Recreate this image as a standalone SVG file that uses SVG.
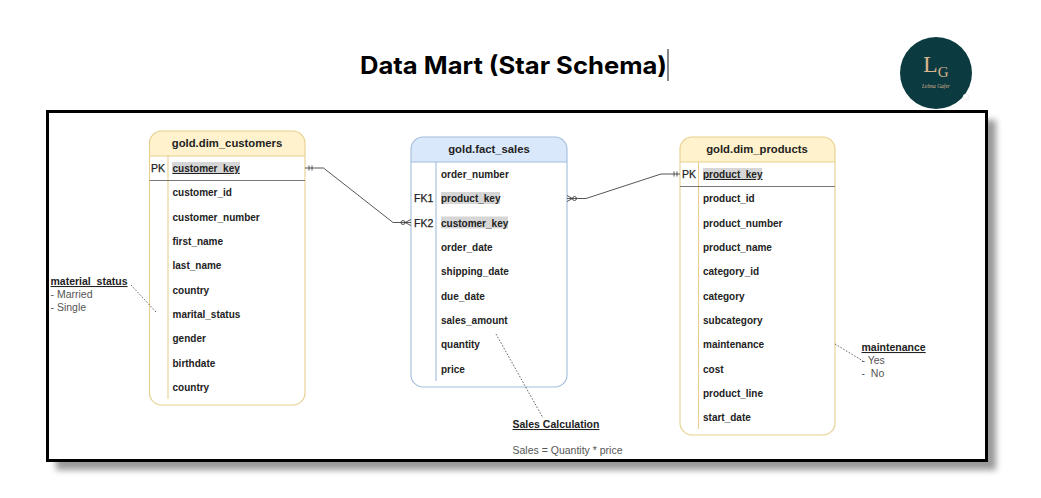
<svg xmlns="http://www.w3.org/2000/svg" width="1041" height="498" viewBox="0 0 1041 498">
<style>
text{font-family:"Liberation Sans",Arial,sans-serif;fill:#111}
.f{font-size:10px;font-weight:700;fill:#222}
.k{font-size:10.5px;fill:#222;stroke:#222;stroke-width:.25}
.h{font-size:11.3px;font-weight:700;text-anchor:middle;fill:#222}
.n{font-size:10.500px;fill:#555}
.u{font-size:10px;font-weight:700;text-decoration:underline;fill:#222}
.y{stroke:#e8cf8e;stroke-width:1.100;fill:none}
.b{stroke:#a3bedd;stroke-width:1.100;fill:none}
.c{stroke:#444;stroke-width:.9;fill:none}
.d{stroke:#555;stroke-width:.9;fill:none;stroke-dasharray:1.600 1.600}
.hl{fill:#d6d6d6}
.s{font-family:"Liberation Serif",serif;fill:#d8b48c}
</style>
<defs><filter id="sh" x="-5%" y="-10%" width="110%" height="120%"><feGaussianBlur stdDeviation="3"/></filter></defs>
<rect width="1041" height="498" fill="#fff"/>
<text x="360" y="74" font-size="24" font-weight="700" style="font-family:Inter,sans-serif;fill:#000" textLength="307" lengthAdjust="spacingAndGlyphs">Data Mart (Star Schema)</text>
<path d="M668 49V81" stroke="#111" stroke-width="1"/>
<g id="logo">
<circle cx="936" cy="73" r="36" fill="#0c3a41"/>
<text x="923" y="72" font-size="24" class="s">L<tspan dy="5" font-size="15">G</tspan></text>
<text x="936" y="88" font-size="5.500" font-style="italic" text-anchor="middle" class="s">Lelma Gafer</text>
<circle cx="966" cy="97" r="3" fill="#fff" stroke="#ddd" stroke-width=".5"/>
</g>
<path d="M56 120H996V470H56Z" fill="#777" opacity=".75" filter="url(#sh)"/>
<rect x="47.500" y="111.500" width="939" height="349" fill="#fff" stroke="#000" stroke-width="3"/>
<g id="dim_customers">
<path d="M149.500 156V143a12 12 0 0 1 12-12H293a12 12 0 0 1 12 12V156Z" fill="#fff2cc"/>
<rect x="149.500" y="131" width="155.500" height="274" rx="12" class="y"/>
<path d="M149.500 156H305M168 156V399" class="y"/>
<path d="M149.500 180.500H305" stroke="#777" stroke-width="1.200"/>
<text x="227" y="147" class="h">gold.dim_customers</text>
<text x="151" y="172" class="k">PK</text>
<rect x="172" y="162" width="68" height="12" class="hl"/>
<text x="172.500" y="172" class="u">customer_key</text>
<text x="172.500" y="196" class="f">customer_id</text>
<text x="172.500" y="220.500" class="f">customer_number</text>
<text x="172.500" y="245" class="f">first_name</text>
<text x="172.500" y="269" class="f">last_name</text>
<text x="172.500" y="293.500" class="f">country</text>
<text x="172.500" y="318" class="f">marital_status</text>
<text x="172.500" y="342" class="f">gender</text>
<text x="172.500" y="366.500" class="f">birthdate</text>
<text x="172.500" y="391" class="f">country</text>
</g>
<g id="fact_sales">
<path d="M411 162V149a12 12 0 0 1 12-12H555a12 12 0 0 1 12 12V162Z" fill="#dae8fc"/>
<rect x="411" y="137" width="156" height="250" rx="12" class="b"/>
<path d="M411 162H567M436 162V381" class="b"/>
<text x="489" y="153" class="h">gold.fact_sales</text>
<text x="414" y="202" class="k">FK1</text>
<text x="414" y="226.500" class="k">FK2</text>
<rect x="441" y="192" width="59" height="12" class="hl"/>
<rect x="441" y="216.500" width="67" height="12" class="hl"/>
<text x="441" y="178" class="f">order_number</text>
<text x="441" y="202" class="f">product_key</text>
<text x="441" y="226.500" class="f">customer_key</text>
<text x="441" y="251" class="f">order_date</text>
<text x="441" y="275" class="f">shipping_date</text>
<text x="441" y="299.500" class="f">due_date</text>
<text x="441" y="324" class="f">sales_amount</text>
<text x="441" y="348" class="f">quantity</text>
<text x="441" y="372.500" class="f">price</text>
</g>
<g id="dim_products">
<path d="M680 162V149a12 12 0 0 1 12-12H823a12 12 0 0 1 12 12V162Z" fill="#fff2cc"/>
<rect x="680" y="137" width="155" height="298" rx="12" class="y"/>
<path d="M680 162H835M698.500 162V429" class="y"/>
<path d="M680 186.500H835" stroke="#777" stroke-width="1.200"/>
<text x="757" y="153" class="h">gold.dim_products</text>
<text x="682" y="178" class="k">PK</text>
<rect x="703" y="168" width="59" height="12" class="hl"/>
<text x="703" y="178" class="u">product_key</text>
<text x="703" y="202" class="f">product_id</text>
<text x="703" y="226.500" class="f">product_number</text>
<text x="703" y="251" class="f">product_name</text>
<text x="703" y="275" class="f">category_id</text>
<text x="703" y="299.500" class="f">category</text>
<text x="703" y="324" class="f">subcategory</text>
<text x="703" y="348" class="f">maintenance</text>
<text x="703" y="372.500" class="f">cost</text>
<text x="703" y="397" class="f">product_line</text>
<text x="703" y="421" class="f">start_date</text>
</g>
<g id="connectors">
<path d="M305 168H323.500L393 222.500H411" class="c"/>
<path d="M309 165.500V170.500M312 165.500V170.500" class="c"/>
<circle cx="403" cy="222.500" r="2" fill="#fff" class="c"/>
<path d="M405 222.500L411 219.500M405 222.500L411 225.500" class="c"/>
<path d="M567 198.500H586L661 174H680" class="c"/>
<circle cx="574.500" cy="198.500" r="2" fill="#fff" class="c"/>
<path d="M572.500 198.500L567 195.500M572.500 198.500L567 201.500" class="c"/>
<path d="M674 171.500V176.500M677 171.500V176.500" class="c"/>
<path d="M131 285L156 312" class="d"/>
<path d="M496 334L543 418" class="d"/>
<path d="M835 344L863 361" class="d"/>
</g>
<g id="note_material_status">
<text x="50.500" y="285" class="u" style="font-size:10.500px">material_status</text>
<text x="50.500" y="298" class="n">- Married</text>
<text x="50.500" y="311" class="n">- Single</text>
</g>
<g id="note_sales_calculation">
<text x="512.500" y="428" class="u" style="font-size:10.500px">Sales Calculation</text>
<text x="512.500" y="454" class="n">Sales = Quantity * price</text>
</g>
<g id="note_maintenance">
<text x="861.500" y="351" class="u" style="font-size:10.500px">maintenance</text>
<text x="861.500" y="364" class="n">- Yes</text>
<text x="861.500" y="377" class="n" xml:space="preserve">-  No</text>
</g>
</svg>
